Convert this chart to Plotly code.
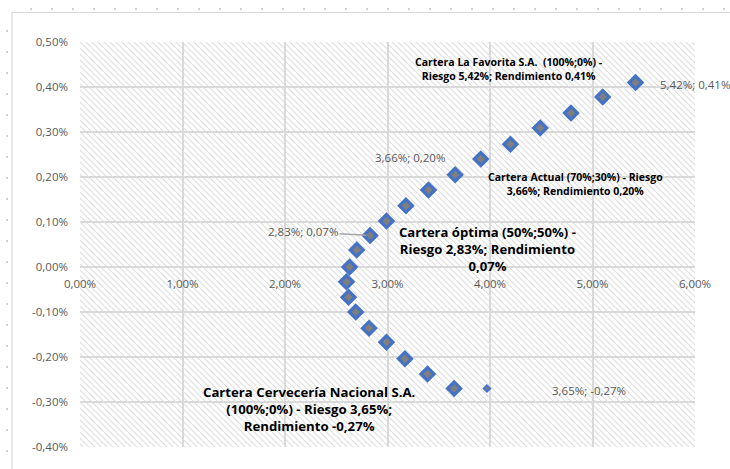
import base64
import plotly.graph_objects as go

# ---------------- data (percent units) ----------------
riesgo = [5.42, 5.10, 4.79, 4.49, 4.20, 3.91, 3.66, 3.40, 3.18, 2.99, 2.83,
          2.70, 2.63, 2.60, 2.62, 2.69, 2.82, 2.99, 3.17, 3.39, 3.65]
rendimiento = [0.41, 0.378, 0.342, 0.309, 0.273, 0.240, 0.205, 0.171, 0.136, 0.102, 0.07,
               0.038, 0.0, -0.033, -0.067, -0.10, -0.136, -0.167, -0.204, -0.238, -0.27]
extra_x = [3.97]
extra_y = [-0.27]

x_ticks = [0, 1, 2, 3, 4, 5, 6]
x_ticktext = ["0,00%", "1,00%", "2,00%", "3,00%", "4,00%", "5,00%", "6,00%"]
y_ticks = [-0.4, -0.3, -0.2, -0.1, 0.0, 0.1, 0.2, 0.3, 0.4, 0.5]
y_ticktext = ["-0,40%", "-0,30%", "-0,20%", "-0,10%", "0,00%", "0,10%", "0,20%", "0,30%", "0,40%", "0,50%"]

FONT = "Open Sans"
GRAY_TXT = "#595959"
GRID = "#d9d9d9"

# hatch background for plot area
W, H = 615, 405
svg = (f'<svg xmlns="http://www.w3.org/2000/svg" width="{W}" height="{H}" viewBox="0 0 {W} {H}" preserveAspectRatio="none">'
       '<defs><pattern id="p" patternUnits="userSpaceOnUse" width="6" height="6">'
       '<path d="M-1,-1 L7,7 M-1,5 L1,7 M5,-1 L7,1" stroke="#dedede" stroke-width="1.1"/></pattern></defs>'
       f'<rect width="{W}" height="{H}" fill="white"/><rect width="{W}" height="{H}" fill="url(#p)"/></svg>')
hatch_uri = "data:image/svg+xml;base64," + base64.b64encode(svg.encode()).decode()

fig = go.Figure()
fig.add_trace(go.Scatter(
    x=riesgo, y=rendimiento, mode="markers",
    marker=dict(symbol="diamond", size=10, color="#7f7f7f",
                line=dict(color="#4472c4", width=3.2)),
    showlegend=False, hoverinfo="x+y"))
fig.add_trace(go.Scatter(
    x=extra_x, y=extra_y, mode="markers",
    marker=dict(symbol="diamond", size=5, color="#7f7f7f",
                line=dict(color="#4472c4", width=1.8)),
    showlegend=False, hoverinfo="x+y"))

small = dict(family=FONT, size=11.5, color=GRAY_TXT)
annotations = [
    dict(x=riesgo[0], y=rendimiento[0], text="5,42%; 0,41%", showarrow=False,
         xanchor="left", xshift=22, yshift=-2, font=small),
    dict(x=riesgo[6], y=rendimiento[6], text="3,66%; 0,20%", showarrow=False,
         xshift=-45, yshift=17, font=small),
    dict(x=riesgo[20], y=rendimiento[20], text="3,65%; -0,27%", showarrow=False,
         xshift=135, yshift=-2, font=small),
    dict(x=riesgo[10], y=rendimiento[10], text="2,83%; 0,07%", showarrow=True,
         arrowhead=0, arrowcolor="#a6a6a6", arrowwidth=1.5, ax=-67, ay=-4,
         standoff=4, font=small),
    dict(x=4.185, y=0.44, text="<b>Cartera La Favorita S.A.  (100%;0%) -<br>Riesgo 5,42%; Rendimiento 0,41%</b>",
         showarrow=False, font=dict(family=FONT, size=10.5, color="#000000")),
    dict(x=4.83, y=0.184, text="<b>Cartera Actual (70%;30%) - Riesgo<br>3,66%; Rendimiento 0,20%</b>",
         showarrow=False, font=dict(family=FONT, size=10.5, color="#000000")),
    dict(x=3.98, y=0.041, text="<b>Cartera óptima (50%;50%) -<br>Riesgo 2,83%; Rendimiento<br>0,07%</b>",
         showarrow=False, font=dict(family=FONT, size=13.1, color="#000000")),
    dict(x=2.234, y=-0.316, text="<b>Cartera Cervecería Nacional S.A.<br>(100%;0%) - Riesgo 3,65%;<br>Rendimiento -0,27%</b>",
         showarrow=False, font=dict(family=FONT, size=13.2, color="#000000")),
]

shapes = [
    # chart area border
    dict(type="rect", xref="paper", yref="paper", x0=(12 - 80) / 615, x1=(740 - 80) / 615,
         y0=(447 - 480) / 405, y1=(447 - 12.5) / 405, line=dict(color=GRID, width=1.2),
         fillcolor="rgba(0,0,0,0)", layer="below"),
    # sheet dotted guides
    dict(type="line", xref="paper", yref="paper", x0=(30 - 80) / 615, x1=(740 - 80) / 615,
         y0=(447 - 9) / 405, y1=(447 - 9) / 405, line=dict(color="#d0d0d0", width=2, dash="2px,19px"),
         layer="below"),
    dict(type="line", xref="paper", yref="paper", x0=(7 - 80) / 615, x1=(7 - 80) / 615,
         y0=(447 - 30) / 405, y1=(447 - 480) / 405, line=dict(color="#d0d0d0", width=2, dash="2px,19px"),
         layer="below"),
]

fig.update_layout(
    width=730, height=469,
    margin=dict(l=80, r=35, t=42, b=22),
    paper_bgcolor="white", plot_bgcolor="rgba(0,0,0,0)",
    font=dict(family=FONT, size=11.5, color=GRAY_TXT),
    annotations=annotations, shapes=shapes,
    images=[dict(source=hatch_uri, xref="paper", yref="paper", x=0, y=1, sizex=1, sizey=1,
                 xanchor="left", yanchor="top", sizing="stretch", layer="below")],
    xaxis=dict(range=[0, 6], tickvals=x_ticks, ticktext=x_ticktext, showgrid=True,
               gridcolor=GRID, gridwidth=1.6, zeroline=False, showline=False,
               anchor="free", position=0.4 / 0.9, ticks="", ticklabelstandoff=8,
               tickfont=dict(family=FONT, size=11.5, color=GRAY_TXT)),
    yaxis=dict(range=[-0.4, 0.5], tickvals=y_ticks, ticktext=y_ticktext, showgrid=True,
               gridcolor=GRID, gridwidth=1.6, zeroline=False, showline=False,
               ticks="", ticklabelstandoff=11,
               tickfont=dict(family=FONT, size=11.5, color=GRAY_TXT)),
)

fig.write_html("out.html")
